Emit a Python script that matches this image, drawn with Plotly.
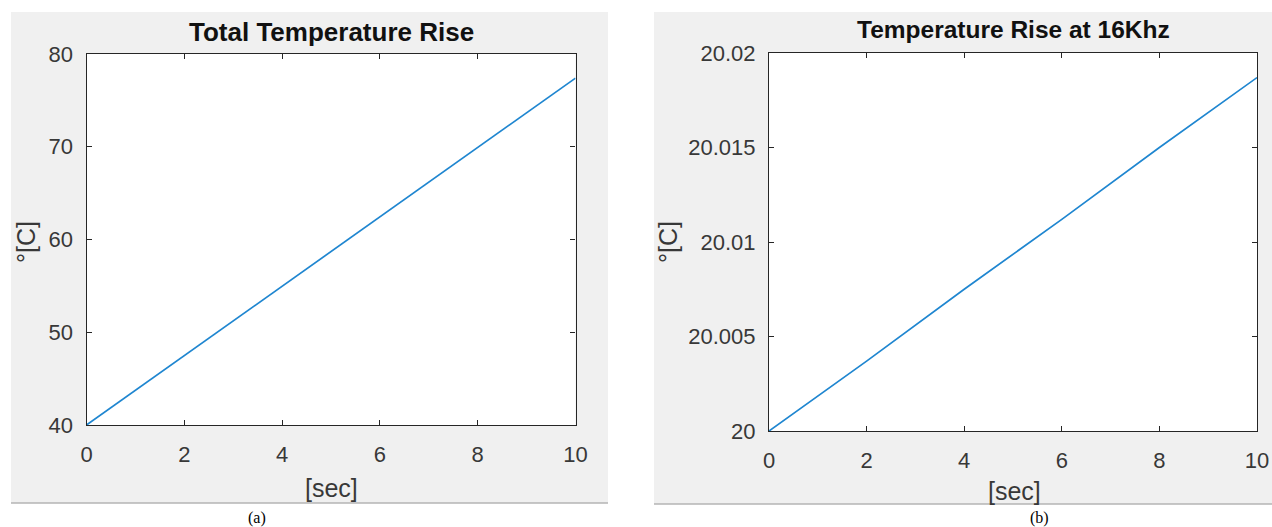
import plotly.graph_objects as go

# ---- data ----
time_s = [0, 2, 4, 6, 8, 10]
total_rise = [40.0, 47.5, 55.0, 62.4, 69.9, 77.4]
rise_16khz = [20.0, 20.0037, 20.0075, 20.0112, 20.0150, 20.0187]

x_ticks = [0, 2, 4, 6, 8, 10]
y_ticks_a = [40, 50, 60, 70, 80]
y_ticks_b = [20.0, 20.005, 20.01, 20.015, 20.02]
y_ticktext_b = ["20", "20.005", "20.01", "20.015", "20.02"]

title_a = "Total Temperature Rise"
title_b = "Temperature Rise at 16Khz"
x_label = "[sec]"
y_label = "°[C]"
panel_labels = ["(a)", "(b)"]

W, H = 1272, 527
LINE_COLOR = "#1f86d0"
AX_COLOR = "#262626"
FONT = "Liberation Sans, Arial, sans-serif"


def px(v):
    return v / W


def py(v):
    return 1 - v / H


fig = go.Figure()
fig.add_trace(go.Scatter(x=time_s, y=total_rise, mode="lines",
                         line=dict(color=LINE_COLOR, width=1.7),
                         xaxis="x", yaxis="y", showlegend=False))
fig.add_trace(go.Scatter(x=time_s, y=rise_16khz, mode="lines",
                         line=dict(color=LINE_COLOR, width=1.7),
                         xaxis="x2", yaxis="y2", showlegend=False))

axis_common = dict(showline=True, mirror="allticks", linecolor=AX_COLOR, linewidth=1.2,
                   ticks="inside", ticklen=5, tickwidth=1, tickcolor=AX_COLOR,
                   showgrid=False, zeroline=False,
                   tickfont=dict(family=FONT, size=22, color="#383838"))

fig.update_layout(
    width=W, height=H, autosize=False,
    margin=dict(l=0, r=0, t=0, b=0, pad=0, autoexpand=False),
    paper_bgcolor="white", plot_bgcolor="white",
    xaxis=dict(domain=[px(86.5), px(575.5)], range=[0, 10], tickvals=x_ticks,
               anchor="y", ticklabelstandoff=9, **axis_common),
    yaxis=dict(domain=[py(425), py(54)], range=[40, 80], tickvals=y_ticks_a,
               anchor="x", ticklabelstandoff=8, **axis_common),
    xaxis2=dict(domain=[px(769), px(1257)], range=[0, 10], tickvals=x_ticks,
                anchor="y2", ticklabelstandoff=9, **axis_common),
    yaxis2=dict(domain=[py(431), py(53)], range=[20, 20.02], tickvals=y_ticks_b,
                ticktext=y_ticktext_b, anchor="x2", ticklabelstandoff=8, **axis_common),
)

# gray figure backgrounds (MATLAB style) with white axes areas
shapes = []
for (x0, x1, y0, y1) in [(11, 608, 12, 503), (654, 1272, 12, 504)]:
    shapes.append(dict(type="rect", xref="paper", yref="paper",
                       x0=px(x0), x1=px(x1), y0=py(y1), y1=py(y0),
                       fillcolor="#f0f0f0", line=dict(width=0), layer="below"))
    shapes.append(dict(type="line", xref="paper", yref="paper",
                       x0=px(x0), x1=px(x1), y0=py(y1), y1=py(y1),
                       line=dict(color="#b4b4b4", width=1.5), layer="below"))
for xr, yr in [("x", "y"), ("x2", "y2")]:
    shapes.append(dict(type="rect", xref=f"{xr} domain", yref=f"{yr} domain",
                       x0=0, x1=1, y0=0, y1=1, fillcolor="white",
                       line=dict(width=0), layer="below"))
fig.update_layout(shapes=shapes)

ann = []
ann.append(dict(text=f"<b>{title_a}</b>", x=px(331), y=py(32),
                font=dict(family=FONT, size=26, color="#111111")))
ann.append(dict(text=f"<b>{title_b}</b>", x=px(1013), y=py(30),
                font=dict(family=FONT, size=24.5, color="#111111")))
ann.append(dict(text=x_label, x=px(331), y=py(488),
                font=dict(family=FONT, size=25, color="#383838")))
ann.append(dict(text=x_label, x=px(1014), y=py(491),
                font=dict(family=FONT, size=25, color="#383838")))
ann.append(dict(text=y_label, x=px(26), y=py(242), textangle=-90,
                font=dict(family=FONT, size=25, color="#383838")))
ann.append(dict(text=y_label, x=px(668), y=py(242), textangle=-90,
                font=dict(family=FONT, size=25, color="#383838")))
ann.append(dict(text=panel_labels[0], x=px(257), y=py(518),
                font=dict(family="Liberation Serif, Times New Roman, serif", size=16, color="black")))
ann.append(dict(text=panel_labels[1], x=px(1039), y=py(518),
                font=dict(family="Liberation Serif, Times New Roman, serif", size=16, color="black")))
for a in ann:
    a.update(xref="paper", yref="paper", showarrow=False, xanchor="center", yanchor="middle")
fig.update_layout(annotations=ann)

fig.write_html("out.html", config={"displayModeBar": False},
               post_script="document.body.style.margin='0';document.body.style.overflow='hidden';")
